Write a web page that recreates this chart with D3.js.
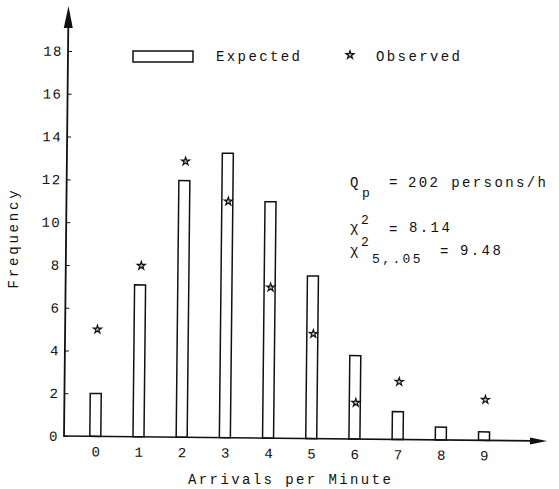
<!DOCTYPE html>
<html>
<head>
<meta charset="utf-8">
<script src="https://cdn.jsdelivr.net/npm/d3@7"></script>
<style>
  html, body { margin: 0; padding: 0; background: #fff; }
  svg { display: block; }
  text { font-family: "Liberation Mono", "DejaVu Sans Mono", monospace; fill: #111; }
</style>
</head>
<body>
<script>
// ---- data ----
const categories = [0, 1, 2, 3, 4, 5, 6, 7, 8, 9];
const expected   = [2.0, 7.1, 12.0, 13.3, 11.05, 7.6, 3.9, 1.3, 0.6, 0.4];
const observed   = [5.0, 8.0, 12.9, 11.05, 7.05, 4.9, 1.7, 2.7, null, 1.9];
const yTicks     = [0, 2, 4, 6, 8, 10, 12, 14, 16, 18];
const xLabel = "Arrivals per Minute";
const yLabel = "Frequency";
const legendLabels = ["Expected", "Observed"];

const W = 559, H = 489;
const LS = 2.4;           // typewriter letter spacing
const FS = 14;

const svg = d3.select("body").append("svg").attr("width", W).attr("height", H);
svg.append("rect").attr("width", W).attr("height", H).attr("fill", "#fff");

// the scanned figure is tilted slightly clockwise
const plot = svg.append("g").attr("transform", "rotate(0.6,64,436)");

const x = d3.scalePoint().domain(categories).range([95.3, 484]);
const y = d3.scaleLinear().domain([0, 18]).range([436, 51]);
const barW = 11;

// bars (expected)
plot.selectAll("rect.bar").data(categories).join("rect")
  .attr("class", "bar")
  .attr("x", d => x(d) - barW / 2)
  .attr("width", barW)
  .attr("y", (d, i) => y(expected[i]))
  .attr("height", (d, i) => y(0) - y(expected[i]))
  .attr("fill", "#fff").attr("stroke", "#111").attr("stroke-width", 1.5);

// axes
const yAxis = plot.append("g").attr("transform", "translate(64,0)")
  .call(d3.axisLeft(y).tickValues(yTicks).tickSizeInner(-4).tickSizeOuter(0).tickPadding(5));
yAxis.select(".domain").remove();
yAxis.selectAll("line").attr("stroke", "#111");
yAxis.selectAll("text").style("font-size", FS + "px").style("letter-spacing", "1.5px")
  .style("font-family", "'Liberation Mono', monospace").attr("fill", "#111");

const xAxis = plot.append("g").attr("transform", "translate(0,436)")
  .call(d3.axisBottom(x).tickSize(0).tickPadding(10));
xAxis.select(".domain").remove();
xAxis.selectAll("text").style("font-size", FS + "px")
  .style("font-family", "'Liberation Mono', monospace").attr("fill", "#111");

// axis lines with arrow heads
plot.append("line").attr("x1", 64).attr("x2", 64).attr("y1", y(0)).attr("y2", 20)
  .attr("stroke", "#111").attr("stroke-width", 1.8);
plot.append("path").attr("d", "M64,6 L59.5,28 L68.5,28 Z").attr("fill", "#111");
plot.append("line").attr("x1", 63).attr("x2", 534).attr("y1", y(0)).attr("y2", y(0))
  .attr("stroke", "#111").attr("stroke-width", 1.6);
plot.append("path").attr("d", `M547,${y(0)} L530,${y(0) - 3.5} L530,${y(0) + 3.5} Z`).attr("fill", "#111");

// observed stars
const star = d3.symbol().type(d3.symbolStar).size(20);
plot.selectAll("path.obs").data(categories.filter((d, i) => observed[i] != null)).join("path")
  .attr("class", "obs")
  .attr("d", star)
  .attr("transform", d => `translate(${x(d) + 1},${y(observed[d])})`)
  .attr("fill", "#bbb").attr("stroke", "#111").attr("stroke-width", 1.2);

// axis titles
svg.append("text").attr("x", 188).attr("y", 484).style("font-size", FS + "px")
  .style("letter-spacing", LS + "px").text(xLabel);
svg.append("text").attr("transform", "translate(17.5,238) rotate(-90)")
  .attr("text-anchor", "middle").style("font-size", FS + "px")
  .style("letter-spacing", "2.8px").text(yLabel);

// legend
svg.append("rect").attr("x", 133).attr("y", 51).attr("width", 60).attr("height", 11)
  .attr("fill", "#fff").attr("stroke", "#111").attr("stroke-width", 1.5);
svg.append("text").attr("x", 216).attr("y", 61).style("font-size", FS + "px")
  .style("letter-spacing", LS + "px").text(legendLabels[0]);
svg.append("path").attr("d", star).attr("transform", "translate(350,55)")
  .attr("fill", "#bbb").attr("stroke", "#111").attr("stroke-width", 1.2);
svg.append("text").attr("x", 376).attr("y", 61).style("font-size", FS + "px")
  .style("letter-spacing", LS + "px").text(legendLabels[1]);

// annotations
function t(xp, yp, s, fs) {
  svg.append("text").attr("x", xp).attr("y", yp).style("font-size", (fs || FS) + "px")
    .style("letter-spacing", LS + "px").text(s);
}
t(350, 187, "Q");
t(362, 197, "p", 13);
t(389, 187, "=");
t(408, 187, "202 persons/h");

t(350, 232, "χ");
t(361, 224, "2", 13);
t(389, 234, "=");
t(409, 232, "8.14");

t(350, 255, "χ");
t(361, 246, "2", 13);
t(372, 263, "5,.05", 13);
t(440, 256, "=");
t(460, 255, "9.48");
</script>
</body>
</html>
